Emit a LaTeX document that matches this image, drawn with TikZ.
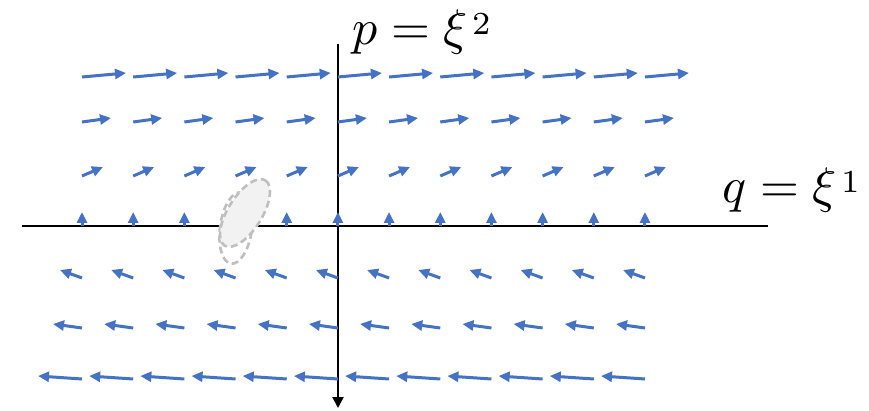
\documentclass[tikz,border=0pt]{standalone}
\usetikzlibrary{arrows.meta}
\definecolor{fieldblue}{HTML}{4472C4}
\definecolor{blobline}{HTML}{BFBFBF}
\definecolor{blobfill}{HTML}{F2F2F2}
\newcommand{\upidx}[1]{\mkern1.5mu\raisebox{2pt}{\scalebox{0.92}{$\scriptstyle #1$}}}
\begin{document}
\begin{tikzpicture}[x=1pt, y=-1pt]
        \tikzstyle{flow} = [fieldblue, line width=3pt, -{Triangle[length=11pt,width=10pt]}]
        \tikzstyle{axis} = [black, line width=2.4pt]
        \tikzstyle{blob} = [blobline, line width=2.6pt, dash pattern=on 7pt off 4pt]
        \tikzstyle{lbl} = [scale=5, inner sep=0pt]
        \useasboundingbox (0,0) rectangle (869,411);
        \draw [axis] (22,226) -- (768,226);
        \draw [axis, -{Triangle[length=11pt,width=11pt]}] (338,44) -- (338,408);
        \foreach \y/\dx/\dy in {77/44/-4, 122/29/-4, 176/21/-9, 226/0/-14, 278/-22/-8, 328/-29/-4, 379/-44/-3}
            \foreach \i in {0,...,11}
                \draw [flow] (82+51.18*\i,\y) -- ++(\dx,\dy);
        \draw [blob, fill=white, rotate around={82:(236,228)}] (236,228) ellipse [x radius=36, y radius=16];
        \draw [blob, fill=blobfill, rotate around={58:(245,213)}] (245,213) ellipse [x radius=38.5, y radius=17];
        \node [lbl, anchor=base west] (pl) at (351,45) {$p=\xi\upidx{2}$};
        \node [lbl, anchor=base west] (ql) at (721,203) {$q=\xi\upidx{1}$};
\end{tikzpicture}
\end{document}
